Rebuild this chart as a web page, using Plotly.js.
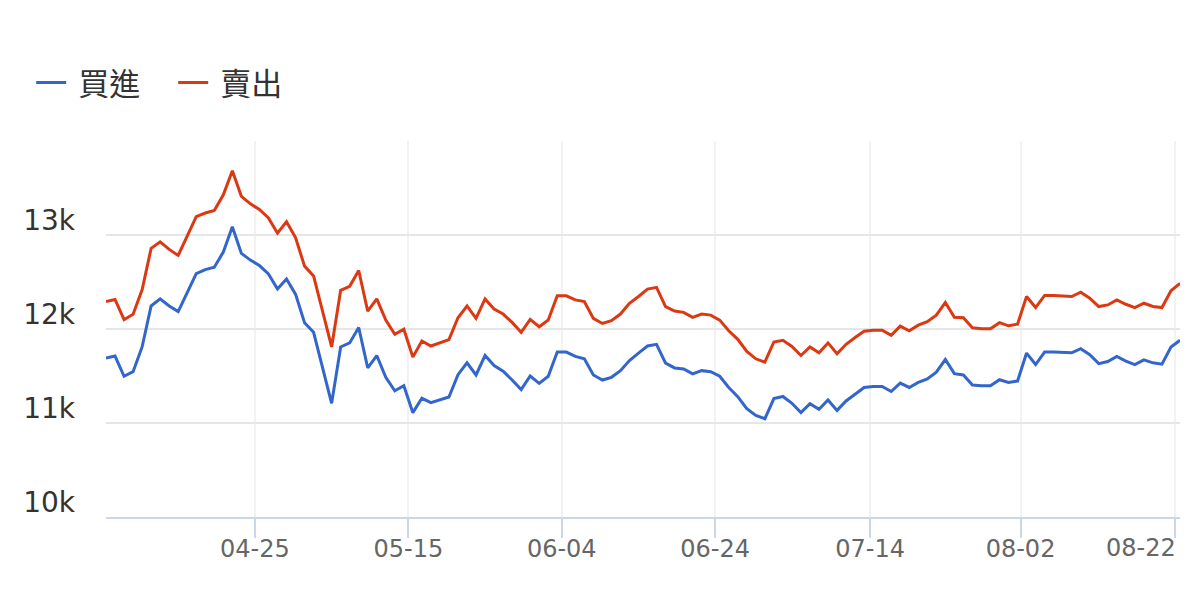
<!DOCTYPE html>
<html>
<head>
<meta charset="utf-8">
<script src="https://cdn.plot.ly/plotly-3.0.1.min.js"></script>
<style>html,body{margin:0;padding:0;background:#fff;}#chart{width:1200px;height:600px;}</style>
</head>
<body>
<div id="chart"></div>
<script>
// ---- data ----
const YEAR = 2021;
const dates = [
 "04-05","04-06","04-08","04-09","04-10","04-11","04-12","04-13","04-15","04-16","04-17","04-18","04-19","04-20","04-22","04-23","04-24",
 "04-26","04-27","04-28","04-29","04-30","05-01","05-03","05-04","05-05","05-06","05-07","05-08","05-10","05-11","05-12","05-13","05-14",
 "05-16","05-17","05-18","05-19","05-20","05-21","05-22","05-24","05-25","05-26","05-27","05-28","05-29","05-31","06-01","06-02","06-03",
 "06-05","06-06","06-07","06-08","06-09","06-11","06-12","06-13","06-14","06-15","06-16","06-18","06-19","06-20","06-21","06-22","06-23",
 "06-25","06-26","06-27","06-28","06-29","06-30","07-01","07-02","07-03","07-04","07-05","07-07","07-08","07-09","07-10","07-11","07-12",
 "07-15","07-16","07-17","07-18","07-19","07-20","07-21","07-22","07-23","07-24","07-26","07-27","07-28","07-29","07-30","07-31","08-01",
 "08-04","08-05","08-06","08-07","08-08","08-09","08-10","08-12","08-13","08-14","08-15","08-16","08-17","08-18","08-19","08-20","08-21",
 "08-23"
];
const buy = [
 11690,11712,11497,11546,11809,12245,12320,12245,12185,12389,12589,12632,12658,12819,13088,12804,12733,
 12675,12586,12425,12532,12371,12067,11965,11594,11210,11809,11852,12016,11586,11718,11486,11342,11396,
 11110,11263,11217,11245,11277,11514,11640,11511,11718,11611,11551,11457,11355,11500,11422,11497,11755,
 11755,11708,11683,11511,11457,11486,11557,11665,11744,11819,11837,11637,11586,11575,11522,11557,11546,
 11497,11378,11280,11153,11081,11045,11260,11282,11210,11110,11206,11145,11245,11134,11234,11306,11378,
 11389,11389,11335,11425,11378,11432,11468,11540,11675,11525,11511,11403,11396,11396,11460,11432,11446,
 11744,11622,11755,11755,11747,11747,11790,11726,11632,11654,11708,11658,11622,11672,11640,11626,11809,
 11880
];
const sell = [
 12292,12314,12099,12156,12417,12858,12927,12847,12783,12991,13196,13234,13260,13428,13683,13411,13331,
 13271,13181,13019,13142,12973,12669,12565,12185,11809,12411,12454,12622,12191,12320,12095,11944,11998,
 11701,11873,11819,11852,11887,12120,12245,12113,12320,12213,12159,12070,11965,12103,12024,12095,12353,
 12353,12310,12292,12113,12059,12088,12159,12274,12346,12425,12443,12239,12191,12177,12124,12159,12148,
 12095,11981,11890,11761,11683,11647,11862,11880,11815,11718,11809,11747,11852,11737,11837,11909,11976,
 11987,11987,11933,12030,11981,12041,12077,12148,12282,12125,12120,12013,12002,12002,12067,12034,12052,
 12346,12228,12357,12357,12349,12346,12392,12328,12239,12256,12310,12263,12228,12274,12239,12228,12406,
 12486
];
const seriesNames = ["買進", "賣出"];
const xTickLabels = ["04-25","05-15","06-04","06-24","07-14","08-02","08-22"];
const yTickVals = [10000, 11000, 12000, 13000, 14000];
const yTickText = ["10k", "11k", "12k", "13k", ""];

// ordinal positions of tick dates (interpolated between neighbouring data dates)
function ts(md){ const [m,d] = md.split("-").map(Number); return Date.UTC(YEAR, m-1, d); }
const dateTs = dates.map(ts);
function ordinalPos(md){
  const t = ts(md);
  for (let i = 0; i < dateTs.length - 1; i++) {
    if (t >= dateTs[i] && t <= dateTs[i+1]) return i + (t - dateTs[i]) / (dateTs[i+1] - dateTs[i]);
  }
  return dateTs.length - 1;
}
const xTickPos = xTickLabels.map(ordinalPos);
// last label is justified inside the plot edge (drawn as an annotation)
const lastIdx = xTickLabels.length - 1;
const xTickText = xTickLabels.map((t, i) => i === lastIdx ? "" : t);

const legendPad = "\u00a0";
const traces = [
  {x: dates, y: buy, name: legendPad + seriesNames[0], type: "scatter", mode: "lines",
   line: {color: "#3366cc", width: 3}},
  {x: dates, y: sell, name: legendPad + seriesNames[1], type: "scatter", mode: "lines",
   line: {color: "#dc3912", width: 3}}
];

const tickFont = {family: "DejaVu Sans, sans-serif", size: 24, color: "#666666"};

const layout = {
  width: 1200, height: 600,
  margin: {l: 106, r: 20, t: 141, b: 83, pad: 0},
  paper_bgcolor: "#ffffff", plot_bgcolor: "#ffffff",
  showlegend: true,
  hovermode: false,
  legend: {
    orientation: "h", xref: "container", yref: "container",
    x: 0.026, y: 0.862, xanchor: "left", yanchor: "middle",
    font: {family: "Noto Sans CJK TC, sans-serif", size: 31, color: "#333333"},
    itemwidth: 30, entrywidth: 97, entrywidthmode: "pixels",
    bgcolor: "rgba(0,0,0,0)"
  },
  xaxis: {
    type: "category",
    range: [0, dates.length - 1],
    tickmode: "array", tickvals: xTickPos, ticktext: xTickText,
    ticks: "outside", ticklen: 19, tickwidth: 2, tickcolor: "#ccd6eb",
    ticklabelstandoff: -10,
    showline: true, linecolor: "#ccd6eb", linewidth: 2,
    showgrid: true, gridcolor: "#f2f2f2", gridwidth: 2,
    zeroline: false,
    tickangle: 0,
    tickfont: tickFont
  },
  yaxis: {
    range: [10000, 14000],
    tickmode: "array", tickvals: yTickVals, ticktext: yTickText,
    ticks: "", showline: false, zeroline: false,
    showgrid: true, gridcolor: "#e6e6e6", gridwidth: 2,
    ticklabelstandoff: 30, ticklabelshift: -15,
    tickfont: {family: "DejaVu Sans, sans-serif", size: 28, color: "#333333"}
  },
  annotations: [{
    x: xTickPos[lastIdx], y: 0, xref: "x", yref: "paper",
    text: xTickLabels[lastIdx], showarrow: false,
    xanchor: "right", yanchor: "middle", xshift: 3, yshift: -31,
    font: tickFont
  }]
};

Plotly.newPlot("chart", traces, layout, {displayModeBar: false, staticPlot: true});
</script>
</body>
</html>
